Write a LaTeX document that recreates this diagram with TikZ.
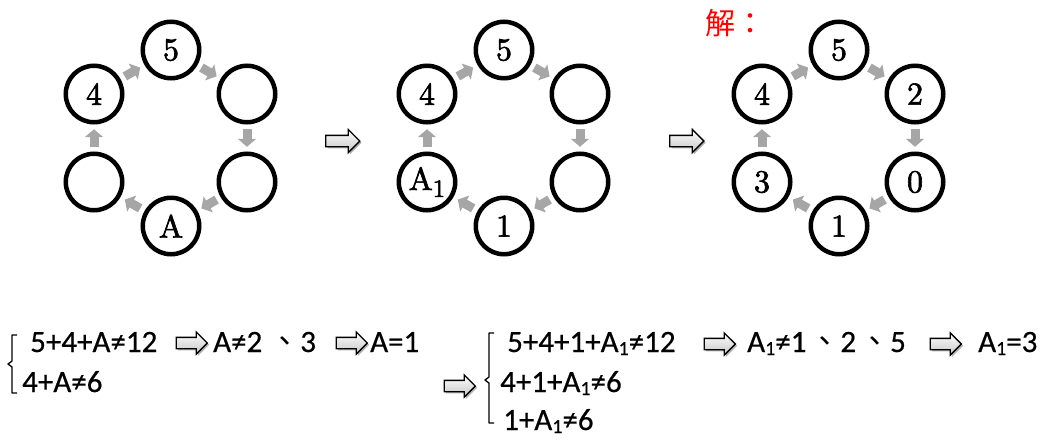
\documentclass[tikz,border=0pt]{standalone}
\usepackage{fontspec}
\newfontfamily\calib{Carlito}[FakeBold=0.5]
\newfontfamily\cjk{Noto Sans CJK TC}
\newfontfamily\ringfont{lmroman10-regular}[Extension=.otf,FakeBold=2]
\usetikzlibrary{shapes.arrows,shadows,calc,arrows.meta}
\definecolor{arrgray}{RGB}{166,166,166}
\definecolor{solred}{RGB}{255,0,0}
\newcommand{\eqsub}[1]{\raisebox{-3pt}{\fontsize{20}{20}\selectfont #1}}
\newcommand{\ringsub}[1]{\raisebox{-7pt}{\fontsize{25}{25}\selectfont #1}}
\tikzset{
 ring/.style={circle,draw=black,line width=4.5pt,minimum size=56.5pt,inner sep=0pt,
   font=\ringfont\fontsize{32}{32}\selectfont},
 flow/.style={draw=arrgray,line width=9pt,-{Triangle[length=8pt,width=18pt]}},
 blockarrow/.style={single arrow,draw=black,line width=1.3pt,top color=white,bottom color=gray!45,
   minimum height=31pt,inner xsep=0pt,inner ysep=5pt,single arrow head extend=5.5pt,
   drop shadow={shadow xshift=1.8pt,shadow yshift=-1.8pt,fill=gray!60,opacity=1}},
 eq/.style={font=\calib\fontsize{31}{31}\selectfont,inner sep=0pt,anchor=base west},
 bracepath/.style={line width=1.3pt,line join=round}
}
\begin{document}
\begin{tikzpicture}[x=1pt,y=-1pt]
\useasboundingbox (0,0) rectangle (1046,439);
% diagram 1
\node[ring] (at)  at (171,50)  {5};
\node[ring] (aul) at (94,94)   {4};
\node[ring] (aur) at (247,94)  {};
\node[ring] (alr) at (247,182) {};
\node[ring] (ab)  at (171,226) {A};
\node[ring] (all) at (94,182)  {};
% diagram 2
\node[ring] (bt)  at (504,50)  {5};
\node[ring] (bul) at (427,94)  {4};
\node[ring] (bur) at (580,94)  {};
\node[ring] (blr) at (580,182) {};
\node[ring] (bb)  at (504,226) {1};
\node[ring] (bll) at (427,182) {A\ringsub{1}};
% diagram 3
\node[ring] (ct)  at (839,50)  {5};
\node[ring] (cul) at (762,94)  {4};
\node[ring] (cur) at (915,94)  {2};
\node[ring] (clr) at (915,182) {0};
\node[ring] (cb)  at (839,226) {1};
\node[ring] (cll) at (762,182) {3};
% flow arrows
\foreach \d in {a,b,c}{
  \draw[flow] ($(\d t)!0.4!(\d ur)$) -- ($(\d t)!0.6!(\d ur)$);
  \draw[flow] ($(\d ur)!0.4!(\d lr)$) -- ($(\d ur)!0.6!(\d lr)$);
  \draw[flow] ($(\d lr)!0.4!(\d b)$) -- ($(\d lr)!0.6!(\d b)$);
  \draw[flow] ($(\d b)!0.4!(\d ll)$) -- ($(\d b)!0.6!(\d ll)$);
  \draw[flow] ($(\d ll)!0.4!(\d ul)$) -- ($(\d ll)!0.6!(\d ul)$);
  \draw[flow] ($(\d ul)!0.4!(\d t)$) -- ($(\d ul)!0.6!(\d t)$);
}
% big arrows between diagrams
\node[blockarrow,minimum height=34pt,single arrow head extend=6pt] (ba1) at (340,141) {};
\node[blockarrow,minimum height=34pt,single arrow head extend=6pt] (ba2) at (684,141) {};
% title
\node[font=\cjk\fontsize{30}{30}\selectfont,text=solred,inner sep=0pt,anchor=base] (sol) at (735,34) {解：};
% left equations
\draw[bracepath] (17,335) -- (12,335) -- (12,361) -- (8,364) -- (12,367) -- (12,393) -- (17,393);
\node[eq] (e1) at (30,352) {5+4+A≠12};
\node[blockarrow] (ba3) at (189,343) {};
\node[eq] (e2) at (213,352) {A≠2 {\cjk 、}3};
\node[blockarrow] (ba4) at (349,343) {};
\node[eq] (e3) at (370,352) {A=1};
\node[eq] (e4) at (22,392) {4+A≠6};
% right equations
\node[blockarrow] (ba5) at (457,386) {};
\draw[bracepath] (494,333) -- (489,333) -- (489,377) -- (485,380) -- (489,383) -- (489,423) -- (494,423);
\node[eq] (e5) at (507,352) {5+4+1+A\eqsub{1}≠12};
\node[blockarrow] (ba6) at (717,344) {};
\node[eq] (e6) at (747,352) {A\eqsub{1}≠1\hspace{3pt}{\cjk 、}2\hspace{3pt}{\cjk 、}5};
\node[blockarrow] (ba7) at (943,344) {};
\node[eq] (e7) at (978,352) {A\eqsub{1}=3};
\node[eq] (e8) at (500,392) {4+1+A\eqsub{1}≠6};
\node[eq] (e9) at (503,430) {1+A\eqsub{1}≠6};
\end{tikzpicture}
\end{document}
